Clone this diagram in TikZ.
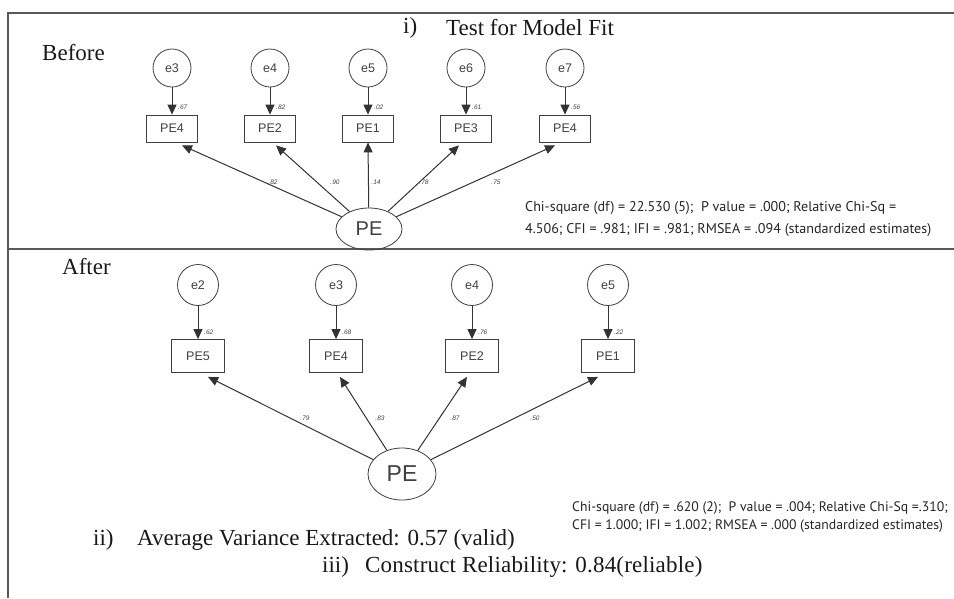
\documentclass[tikz,border=0pt]{standalone}
\usepackage{fontspec}
\setmainfont{Liberation Serif}
\newfontfamily\amos{Liberation Sans}
\newfontfamily\myr{PT Sans}
\usetikzlibrary{arrows.meta,shapes.geometric}
\begin{document}
\begin{tikzpicture}[x=1pt,y=-1pt,
  frame/.style={draw=black!65, line width=1.2pt},
  errc/.style={circle, draw=black!75, line width=0.8pt, inner sep=0pt, font=\amos\fontsize{12.5}{14}\selectfont, text=black!75},
  obs/.style={rectangle, draw=black!75, line width=0.8pt, inner sep=0pt, font=\amos\fontsize{12.5}{14}\selectfont, text=black!75},
  lat/.style={ellipse, draw=black!75, line width=0.8pt, inner sep=0pt, text=black!75},
  arr/.style={-{Triangle[length=10pt,width=9pt]}, draw=black!80, line width=1pt},
  sm/.style={font=\amos\itshape\fontsize{6.5}{7}\selectfont, text=black!75, inner sep=0pt},
  ser/.style={font=\fontsize{23}{26}\selectfont, inner sep=0pt, text=black!90},
  fit/.style={font=\myr, inner sep=0pt, anchor=west, align=left, text=black!85}
]
\useasboundingbox (0,0) rectangle (954,598);
\fill[white] (0,0) rectangle (954,598);
% frame
\draw[frame] (954,13) -- (8,13) -- (8,598);
\draw[frame] (8,249) -- (954,249);

% titles
\node[ser, anchor=west] (ti) at (403,28) {i)};
\node[ser, anchor=west] (tt) at (446,28) {Test for Model Fit};
\node[ser, anchor=west] (bef) at (42,53) {Before};
\node[ser, anchor=west] (aft) at (62,267) {After};

% ---------- Before ----------
\foreach \n/\x/\e/\b in {1/172/e3/PE4, 2/270/e4/PE2, 3/368/e5/PE1, 4/466/e6/PE3, 5/565/e7/PE4}{
  \node[errc, minimum size=38pt] (be\n) at (\x,68) {\e};
  \node[obs, minimum width=51pt, minimum height=27pt] (bb\n) at (\x,128.5) {\b};
}
\node[lat, minimum width=66pt, minimum height=42pt, font=\amos\fontsize{20}{22}\selectfont] (bpe) at (369,229) {PE};

\foreach \n in {1,...,5}{ \draw[arr] (be\n) -- (bb\n); }
\foreach \n/\v in {1/.67, 2/.82, 3/.02, 4/.61, 5/.56}{
  \node[sm, anchor=west] at ([xshift=6pt,yshift=7pt]bb\n.north) {\v};
}
\path (bb1.south) ++(10,3) coordinate (bt1);
\path (bb2.south) ++(6,3) coordinate (bt2);
\path (bb3.south) ++(0,0) coordinate (bt3);
\path (bb4.south) ++(-7,3) coordinate (bt4);
\path (bb5.south) ++(-10,3) coordinate (bt5);
\foreach \n in {1,...,5}{ \draw[arr] (bpe) -- (bt\n); }
\node[sm] (bl1) at (273,182) {.82};
\node[sm] (bl2) at (335,182) {.90};
\node[sm] (bl3) at (376,182) {.14};
\node[sm] (bl4) at (424,182) {.78};
\node[sm] (bl5) at (496,182) {.75};

\node[fit, font=\myr\fontsize{14.1}{22}\selectfont] (bfit) at (525,219)
  {Chi-square (df) = 22.530 (5);\ \ P value = .000; Relative Chi-Sq =\\
   4.506; CFI = .981; IFI = .981; RMSEA = .094 (standardized estimates)};

% ---------- After ----------
\foreach \n/\x/\e/\b in {1/198/e2/PE5, 2/336/e3/PE4, 3/472/e4/PE2, 4/608/e5/PE1}{
  \node[errc, minimum size=41pt] (ae\n) at (\x,285) {\e};
  \node[obs, minimum width=53pt, minimum height=33pt] (ab\n) at (\x,356) {\b};
}
\node[lat, minimum width=68pt, minimum height=52pt, font=\amos\fontsize{23}{25}\selectfont] (ape) at (402,474) {PE};

\foreach \n in {1,...,4}{ \draw[arr] (ae\n) -- (ab\n); }
\foreach \n/\v in {1/.62, 2/.68, 3/.76, 4/.22}{
  \node[sm, anchor=west] at ([xshift=6pt,yshift=7pt]ab\n.north) {\v};
}
\path (ab1.south) ++(10,4) coordinate (at1);
\path (ab2.south) ++(4,4) coordinate (at2);
\path (ab3.south) ++(-5,4) coordinate (at3);
\path (ab4.south) ++(-10,4) coordinate (at4);
\foreach \n in {1,...,4}{ \draw[arr] (ape) -- (at\n); }
\node[sm] (al1) at (305,418) {.79};
\node[sm] (al2) at (380,418) {.83};
\node[sm] (al3) at (455,418) {.87};
\node[sm] (al4) at (535,418) {.50};

\node[fit, font=\myr\fontsize{13.75}{18}\selectfont] (afit) at (572,517)
  {Chi-square (df) = .620 (2);\ \ P value = .004; Relative Chi-Sq =.310;\\
   CFI = 1.000; IFI = 1.002; RMSEA = .000 (standardized estimates)};

\node[ser, anchor=west] (ii) at (93,540) {ii)};
\node[ser, anchor=west] (avg) at (137,540) {Average Variance Extracted: 0.57 (valid)};
\node[ser, anchor=west] (iii) at (322,567) {iii)};
\node[ser, anchor=west] (cr) at (365,567) {\addfontfeatures{LetterSpace=0.8}Construct Reliability: 0.84(reliable)};
\end{tikzpicture}
\end{document}
